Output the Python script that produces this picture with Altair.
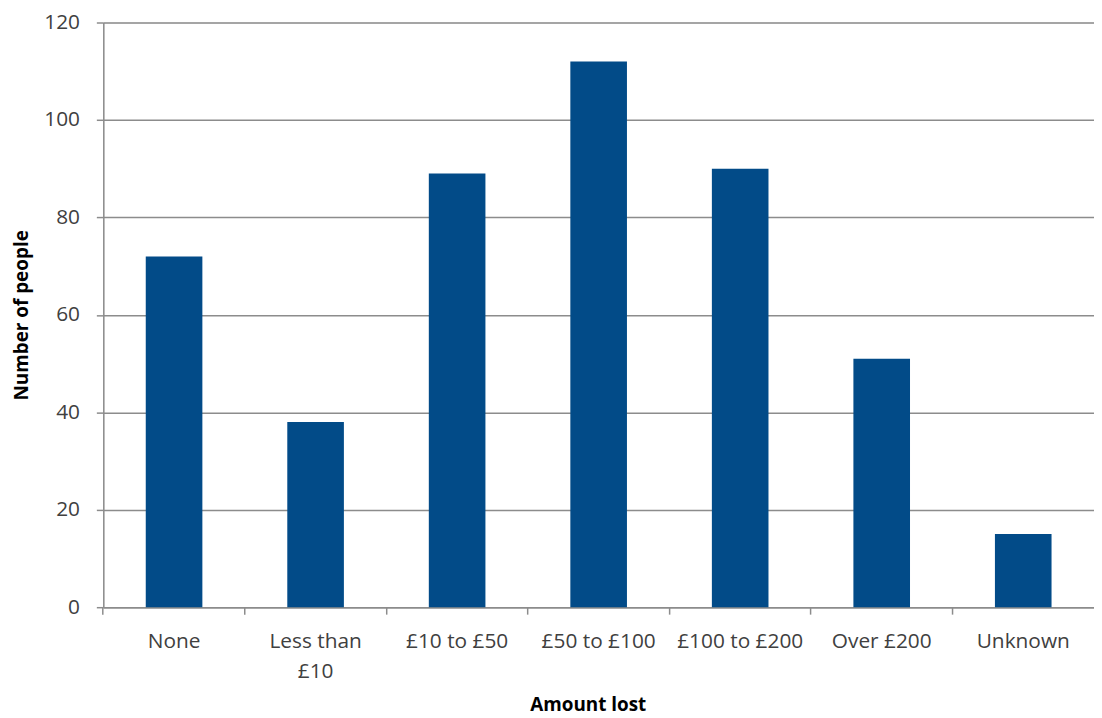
import altair as alt
import pandas as pd

categories = ["None", "Less than £10", "£10 to £50", "£50 to £100", "£100 to £200", "Over £200", "Unknown"]
counts = [72, 38, 89, 112, 90, 51, 15]

df = pd.DataFrame({"amount": categories, "people": counts})

FONT = "Open Sans"
GRID = "#8c8c8c"
LABEL = "#404040"

xscale = alt.Scale(domain=categories, paddingInner=0.6, paddingOuter=0.3)

bars = alt.Chart(df).mark_bar(color="#024B88").encode(
    x=alt.X("amount:N", scale=xscale, sort=categories,
            axis=alt.Axis(orient="bottom", title="Amount lost", ticks=False, domain=True, domainColor=GRID, domainWidth=1.5,
                          labelAngle=0, labelFont=FONT, labelFontSize=21, labelColor=LABEL,
                          labelPadding=24, labelLineHeight=30,
                          labelExpr="datum.label == 'Less than £10' ? ['Less than', '£10'] : datum.label",
                          titleFont=FONT, titleFontSize=19, titleFontWeight="bold", titleColor="#000000",
                          titlePadding=14, titleX=488, titleAlign="center")),
    y=alt.Y("people:Q", scale=alt.Scale(domain=[0, 120]),
            axis=alt.Axis(title="Number of people", values=[0, 20, 40, 60, 80, 100, 120],
                          grid=True, gridColor=GRID, gridWidth=1.5,
                          domainColor=GRID, domainWidth=1.5, tickColor=GRID, tickWidth=1.5, tickSize=7,
                          labelFont=FONT, labelFontSize=21, labelColor=LABEL, labelPadding=17,
                          titleFont=FONT, titleFontSize=19, titleFontWeight="bold", titleColor="#000000",
                          titlePadding=12)),
)

ticks = alt.Chart(df).mark_bar(opacity=0).encode(
    x=alt.X("amount:N", scale=xscale, sort=categories,
            axis=alt.Axis(orient="bottom", title=None, labels=False, domain=False, ticks=True, tickColor=GRID,
                          tickWidth=1.5, tickSize=7, bandPosition=-0.75)),
    y=alt.Y("people:Q"),
)

chart = alt.layer(ticks, bars).resolve_axis(x="independent").properties(
    width=998, height=589,
    autosize=alt.AutoSizeParams(type="none"),
    padding={"left": 96, "top": 12, "right": 0, "bottom": 109},
).configure_view(stroke=None).configure(background="white")

chart.save("out.html", embed_options={"renderer": "svg", "actions": False})
